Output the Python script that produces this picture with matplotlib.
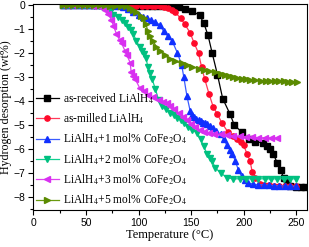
import numpy as np
import matplotlib
matplotlib.use("Agg")
import matplotlib.pyplot as plt
from matplotlib.ticker import MultipleLocator

plt.rcParams['mathtext.fontset'] = 'stix'

# as-received LiAlH4
t_recv = [28, 33, 38, 43, 48, 53, 58, 63, 68, 73, 78, 83, 88, 93, 98, 103, 108, 113, 118, 123,
          128, 133, 138, 144, 151, 158, 162, 166, 170, 175, 180, 187, 191, 198, 205, 211, 218,
          222, 225, 228, 232, 235, 238, 241, 244, 250, 254, 258]
h_recv = [0.0, 0.0, 0.0, 0.0, 0.0, 0.0, 0.0, -0.01, -0.01, -0.01, -0.01, -0.01, -0.02, -0.02,
          -0.02, -0.02, -0.02, -0.02, -0.02, -0.03, -0.03, -0.05, -0.08, -0.15, -0.25, -0.42,
          -0.75, -1.25, -2.0, -2.9, -3.9, -4.55, -5.0, -5.3, -5.6, -5.7, -5.75, -5.9, -6.0,
          -6.2, -6.6, -6.9, -7.2, -7.4, -7.55, -7.58, -7.6, -7.6]

# as-milled LiAlH4
t_mill = [28, 33, 38, 43, 48, 53, 58, 63, 68, 73, 78, 83, 88, 93, 98, 103, 108, 113, 116, 120,
          124, 128, 132, 135, 140, 144, 149, 153, 157, 160, 163, 167, 171, 175, 179, 185, 190,
          194, 197, 200, 203, 206, 208, 211, 215, 219, 224, 229, 234, 239, 244, 250]
h_mill = [0.0, 0.0, 0.0, 0.0, 0.0, -0.01, -0.01, -0.01, -0.02, -0.02, -0.03, -0.03, -0.04,
          -0.04, -0.05, -0.05, -0.05, -0.05, -0.05, -0.05, -0.07, -0.1, -0.2, -0.3, -0.55,
          -0.8, -1.15, -1.6, -2.0, -2.6, -3.1, -3.7, -4.25, -4.55, -4.9, -5.3, -5.45, -5.6,
          -5.7, -5.85, -6.2, -6.5, -6.95, -7.2, -7.45, -7.5, -7.52, -7.53, -7.55, -7.55,
          -7.56, -7.57]

# LiAlH4 + 1 mol% CoFe2O4
t_1 = [28, 33, 38, 43, 48, 53, 58, 63, 68, 73, 78, 82, 85, 90, 95, 100, 104, 108, 112, 116,
       120, 124, 128, 132, 137, 141, 143, 146, 149, 151, 153, 155, 157, 159, 161, 163, 165,
       168, 171, 174, 178, 181, 184, 187, 189, 192, 195, 198, 201, 204, 209, 214, 219, 224,
       229, 234, 239, 244, 250]
h_1 = [0.0, 0.0, 0.0, 0.0, 0.0, 0.0, -0.01, -0.01, -0.02, -0.02, -0.03, -0.05, -0.08, -0.15,
       -0.3, -0.4, -0.48, -0.55, -0.62, -0.7, -0.82, -1.1, -1.3, -1.5, -2.0, -2.5, -3.0, -3.8,
       -4.4, -4.6, -4.68, -4.75, -4.8, -4.85, -4.9, -4.93, -4.97, -5.05, -5.12, -5.25, -5.4,
       -5.6, -5.85, -6.05, -6.2, -6.5, -6.9, -7.15, -7.3, -7.42, -7.47, -7.5, -7.5, -7.52,
       -7.53, -7.54, -7.55, -7.55, -7.56]

# LiAlH4 + 2 mol% CoFe2O4
t_2 = [28, 33, 38, 43, 48, 53, 58, 62, 65, 70, 73, 76, 80, 84, 87, 90, 93, 95, 98, 101, 103,
       105, 107, 109, 111, 113, 116, 119, 122, 126, 130, 134, 137, 140, 143, 147, 151, 156,
       159, 162, 165, 168, 170, 173, 178, 184, 190, 196, 202, 208, 214, 220, 226, 232, 238,
       244, 250]
h_2 = [0.0, 0.0, 0.0, 0.0, 0.0, -0.01, -0.02, -0.04, -0.08, -0.2, -0.3, -0.4, -0.5, -0.6,
       -0.75, -0.9, -1.05, -1.2, -1.5, -1.75, -1.9, -2.05, -2.2, -2.6, -2.85, -3.1, -3.5,
       -3.95, -4.2, -4.35, -4.5, -4.6, -4.7, -4.8, -4.9, -5.1, -5.2, -5.35, -5.6, -5.9, -6.2,
       -6.4, -6.5, -6.8, -7.0, -7.2, -7.25, -7.25, -7.25, -7.25, -7.25, -7.25, -7.25, -7.25,
       -7.25, -7.25, -7.25]

# LiAlH4 + 3 mol% CoFe2O4
t_3 = [28, 33, 38, 43, 48, 53, 57, 61, 65, 68, 71, 74, 76, 79, 82, 84, 87, 89, 92, 93, 95,
       97, 101, 105, 109, 114, 119, 123, 127, 130, 134, 138, 142, 146, 150, 154, 158, 162,
       167, 172, 178, 184, 190, 196, 202, 208, 214, 220, 226, 232]
h_3 = [0.0, 0.0, 0.0, 0.0, 0.0, -0.01, -0.02, -0.04, -0.08, -0.2, -0.35, -0.6, -0.85, -1.2,
       -1.45, -1.6, -1.9, -2.1, -2.4, -2.8, -2.95, -3.1, -3.45, -3.6, -3.75, -3.85, -3.95,
       -4.05, -4.1, -4.2, -4.35, -4.5, -4.65, -4.8, -4.95, -5.1, -5.2, -5.3, -5.35, -5.38,
       -5.4, -5.42, -5.45, -5.48, -5.5, -5.52, -5.53, -5.54, -5.55, -5.55]

# LiAlH4 + 5 mol% CoFe2O4
t_5 = [28, 33, 38, 43, 48, 53, 58, 63, 68, 73, 78, 83, 88, 92, 95, 98, 102, 105, 107, 109,
       111, 114, 117, 120, 125, 130, 135, 141, 146, 151, 157, 162, 167, 173, 178, 182, 186,
       190, 194, 198, 202, 206, 211, 216, 221, 225, 230, 234, 238, 242, 246, 251]
h_5 = [0.0, 0.0, 0.0, 0.0, 0.0, 0.0, -0.01, -0.01, -0.01, -0.02, -0.02, -0.03, -0.05, -0.12,
       -0.2, -0.3, -0.45, -0.55, -0.8, -1.1, -1.3, -1.5, -1.75, -1.9, -2.1, -2.25, -2.35,
       -2.42, -2.5, -2.57, -2.65, -2.7, -2.75, -2.8, -2.87, -2.92, -2.96, -3.0, -3.05, -3.08,
       -3.1, -3.12, -3.14, -3.15, -3.16, -3.17, -3.17, -3.18, -3.18, -3.19, -3.2, -3.2]

series = [
    (t_recv, h_recv, 'as-received LiAlH$_4$', '#000000', '#000000', 's'),
    (t_mill, h_mill, 'as-milled LiAlH$_4$', '#ff3a5a', '#ff0a2a', 'o'),
    (t_1, h_1, 'LiAlH$_4$+1 mol% CoFe$_2$O$_4$', '#3a5cff', '#1030ff', '^'),
    (t_2, h_2, 'LiAlH$_4$+2 mol% CoFe$_2$O$_4$', '#10d090', '#00c080', 'v'),
    (t_3, h_3, 'LiAlH$_4$+3 mol% CoFe$_2$O$_4$', '#e040f0', '#d830f0', '<'),
    (t_5, h_5, 'LiAlH$_4$+5 mol% CoFe$_2$O$_4$', '#6a9a10', '#5a8a00', '>'),
]

fig = plt.figure(figsize=(3.09, 2.47), dpi=100)
ax = fig.add_axes([0.108, 0.15, 0.885, 0.834])

for t, h, lab, lc, mc, m in series:
    ax.plot(t, h, color=lc, lw=0.9, marker=m, ms=3.8, mfc=mc, mec=mc, label=lab)

ax.set_xlim(0, 260)
ax.set_ylim(-8.55, 0.05)
ax.xaxis.set_major_locator(MultipleLocator(50))
ax.xaxis.set_minor_locator(MultipleLocator(25))
ax.yaxis.set_major_locator(MultipleLocator(1))
ax.yaxis.set_minor_locator(MultipleLocator(0.5))
ax.tick_params(which='major', direction='out', length=3.5, width=0.8, labelsize=7.5, pad=2)
ax.tick_params(which='minor', direction='out', length=2, width=0.8)
for lbl in ax.get_xticklabels() + ax.get_yticklabels():
    lbl.set_fontfamily('Liberation Sans')
for s in ax.spines.values():
    s.set_linewidth(0.8)

ax.set_xlabel('Temperature (\u00b0C)', family='Liberation Serif', fontsize=9, labelpad=1)
ax.set_ylabel('Hydrogen desorption (wt%)', family='Liberation Serif', fontsize=8.6, labelpad=1)

ax.legend(loc='lower left', bbox_to_anchor=(0.008, 0.014), frameon=False,
          prop={'family': 'Liberation Serif', 'size': 8.3},
          handlelength=2.0, handletextpad=0.36, labelspacing=0.5, borderaxespad=0,
          borderpad=0)

fig.savefig('out.png', dpi=100)
